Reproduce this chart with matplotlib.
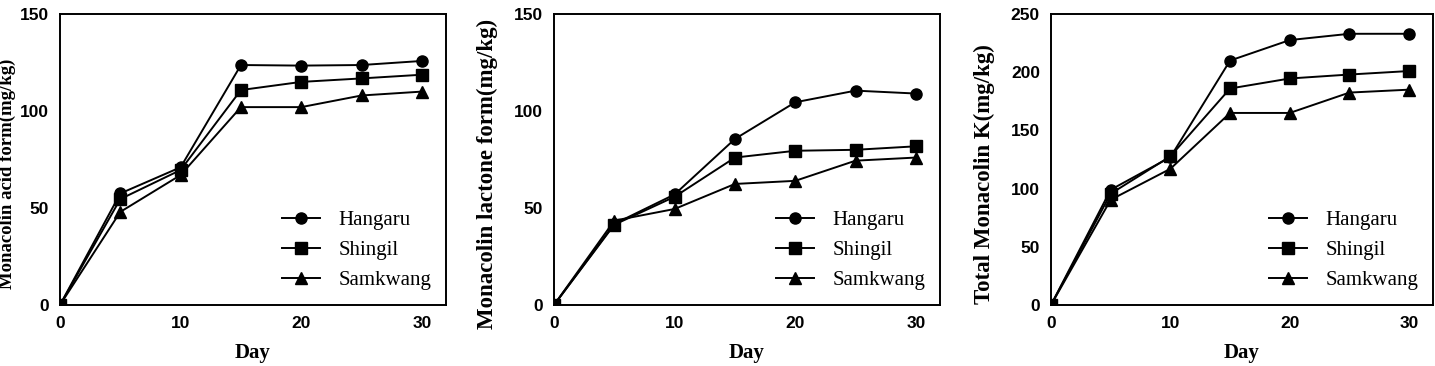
import matplotlib
matplotlib.use("Agg")
import matplotlib.pyplot as plt

days = [0, 5, 10, 15, 20, 25, 30]
cultivars = ["Hangaru", "Shingil", "Samkwang"]
markers = ["o", "s", "^"]

# monacolin acid form (mg/kg)
acid_hangaru = [0, 57.5, 71, 123.7, 123.4, 123.7, 125.8]
acid_shingil = [0, 54.6, 69.6, 110.8, 115, 116.8, 118.7]
acid_samkwang = [0, 48, 67, 102, 102, 108, 110]

# monacolin lactone form (mg/kg)
lac_hangaru = [0, 41.8, 57, 85.6, 104.5, 110.5, 109]
lac_shingil = [0, 41.4, 55.8, 76, 79.5, 80, 81.8]
lac_samkwang = [0, 43.5, 49.5, 62.4, 64, 74.4, 76]

# total monacolin K (mg/kg)
tot_hangaru = [0, 99, 127, 210, 227.6, 233, 233]
tot_shingil = [0, 95.6, 127.7, 186, 194.6, 198, 201]
tot_samkwang = [0, 90.4, 117, 165, 165, 182.5, 185]

panels = [
    ([acid_hangaru, acid_shingil, acid_samkwang], "Monacolin acid form(mg/kg)", 150, [0, 50, 100, 150]),
    ([lac_hangaru, lac_shingil, lac_samkwang], "Monacolin lactone form(mg/kg)", 150, [0, 50, 100, 150]),
    ([tot_hangaru, tot_shingil, tot_samkwang], "Total Monacolin K(mg/kg)", 250, [0, 50, 100, 150, 200, 250]),
]

fig = plt.figure(figsize=(14.35, 3.66), dpi=100)
lefts = [60, 554, 1051]
widths = [386, 386, 382]
ylab_x = [-0.114, -0.145, -0.147]
ylab_size = [13.5, 16.5, 16.5]

for i, (series, ylab, ymax, yticks) in enumerate(panels):
    ax = fig.add_axes([lefts[i] / 1435, 1 - 305 / 366, widths[i] / 1435, 291 / 366])
    for vals, name, m in zip(series, cultivars, markers):
        ax.plot(days, vals, color="black", lw=1.4, marker=m, ms=8, label=name)
    ax.set_xlim(0, 32)
    ax.set_ylim(0, ymax)
    ax.set_xticks([0, 10, 20, 30])
    ax.set_yticks(yticks)
    ax.tick_params(length=0, pad=8)
    for lbl in ax.get_xticklabels() + ax.get_yticklabels():
        lbl.set_fontfamily("Liberation Sans")
        lbl.set_fontweight("bold")
        lbl.set_fontsize(12.5)
    for sp in ax.spines.values():
        sp.set_linewidth(1.4)
    ax.set_xlabel("Day", family="Liberation Serif", fontweight="bold", fontsize=15)
    ax.set_ylabel(ylab, family="Liberation Serif", fontweight="bold", fontsize=ylab_size[i])
    ax.yaxis.set_label_coords(ylab_x[i], 0.45)
    ax.xaxis.set_label_coords(0.5, -0.13)
    ax.legend(loc="lower right", bbox_to_anchor=(1.0, 0.0), frameon=False,
              prop={"family": "Liberation Serif", "size": 15},
              handlelength=1.8, handletextpad=0.9, labelspacing=0.5,
              borderaxespad=0.3)

plt.savefig("out.png", dpi=100)
